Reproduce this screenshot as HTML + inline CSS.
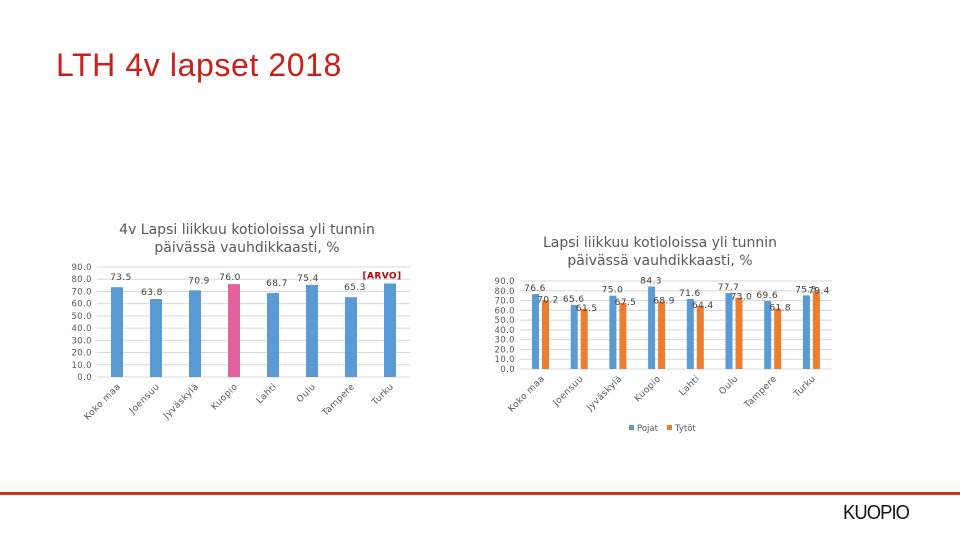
<!DOCTYPE html>
<html><head><meta charset="utf-8"><style>
body{margin:0;width:960px;height:540px;background:#fff;overflow:hidden;position:relative;font-family:"DejaVu Sans","Liberation Sans",sans-serif}
.t{position:absolute;white-space:nowrap}
</style></head><body>
<div class="t" style="left:56px;top:47px;font-size:32px;color:#c8201a;font-family:'Liberation Sans',sans-serif;letter-spacing:0.6px">LTH 4v lapset 2018</div>
<div class="t" style="left:97px;top:221px;width:300px;text-align:center;font-size:14px;color:#595959;line-height:18px">4v Lapsi liikkuu kotioloissa yli tunnin<br>päivässä vauhdikkaasti, %</div>
<div class="t" style="left:510px;top:234px;width:300px;text-align:center;font-size:14px;color:#595959;line-height:18px">Lapsi liikkuu kotioloissa yli tunnin<br>päivässä vauhdikkaasti, %</div>
<svg id="c" width="960" height="540" style="position:absolute;left:0;top:0"></svg>
<div style="position:absolute;left:0;top:492px;width:960px;height:3px;background:#d0321e"></div>
<div class="t" style="left:843px;top:502px;font-size:20px;color:#111;font-family:'Liberation Sans',sans-serif;letter-spacing:-1px;transform:scaleX(0.92);transform-origin:left">KUOPIO</div>
<script>
const cats=["Koko maa","Joensuu","Jyväskylä","Kuopio","Lahti","Oulu","Tampere","Turku"];
const vals1=[73.5,63.8,70.9,76.0,68.7,75.4,65.3,76.5];
const labels1=["73.5","63.8","70.9","76.0","68.7","75.4","65.3","[ARVO]"];
const pojat=[76.6,65.6,75.0,84.3,71.6,77.7,69.6,75.3];
const tytot=[70.2,61.5,67.5,68.9,64.4,73.0,61.8,79.4];
const ticks=[0,10,20,30,40,50,60,70,80,90];
const svg=document.getElementById('c');const NS='http://www.w3.org/2000/svg';
function mk(t,a,txt){const e=document.createElementNS(NS,t);for(const k in a)e.setAttribute(k,a[k]);if(txt!=null)e.textContent=txt;svg.appendChild(e);return e;}
function axis(x0,x1,yTop,yBot,lx,pfx){
 const y=v=>yBot-(v/90)*(yBot-yTop);
 ticks.forEach(v=>{const g=mk('line',{x1:x0,x2:x1,y1:y(v),y2:y(v),stroke:'#d9d9d9','stroke-width':1});
 
 const t=mk('text',{x:lx,y:y(v)+3,'font-size':8.5,fill:'#595959','text-anchor':'end','letter-spacing':'0.4'},v.toFixed(1));
 });
 return y;}
function catLabels(cx,yBot,pfx){cats.forEach((c,i)=>{const t=mk('text',{x:cx(i)+4,y:yBot+10,'font-size':9,fill:'#595959','text-anchor':'end','letter-spacing':'0.4',transform:`rotate(-45 ${cx(i)+4} ${yBot+10})`},c);
 });}
// chart 1
const y1=axis(97,410,267,377,92,'chart1');
const cx1=i=>117+i*39;
vals1.forEach((v,i)=>{const b=mk('rect',{x:cx1(i)-6,y:y1(v),width:12,height:y1(0)-y1(v),fill:i==3?'#e4609f':'#5b9bd5'});
 
 const last=i==7;const t=mk('text',{x:last?cx1(i)-8:cx1(i)+(i%2?-4:4),y:y1(v)-(i%2?-7:-4)-11+(last?-1:0),'font-size':9,'font-weight':last?'bold':'normal',fill:last?'#c00000':'#404040','text-anchor':'middle','letter-spacing':'0.4'},labels1[i]);
 });
catLabels(cx1,377,'chart1');
// chart 2
const y2=axis(520,832,281,369,515,'chart2');
const cx2=i=>541+i*38.7;
pojat.forEach((v,i)=>{const b=mk('rect',{x:cx2(i)-9,y:y2(v),width:7,height:y2(0)-y2(v),fill:'#5b9bd5'});
 
 const t=mk('text',{x:cx2(i)-6,y:y2(v)-3,'font-size':9,fill:'#404040','text-anchor':'middle','letter-spacing':'0.4'},v.toFixed(1));
 });
tytot.forEach((v,i)=>{const b=mk('rect',{x:cx2(i)+1,y:y2(v),width:7,height:y2(0)-y2(v),fill:'#ed7d31'});
 
 const t=mk('text',{x:cx2(i)+7,y:y2(v)+2,'font-size':9,fill:'#404040','text-anchor':'middle','letter-spacing':'0.4'},v.toFixed(1));
 });
catLabels(cx2,369,'chart2');
let e=mk('rect',{x:629,y:425,width:5,height:5,fill:'#5b9bd5'});
e=mk('text',{x:637,y:431,'font-size':8.5,fill:'#595959'},'Pojat');
e=mk('rect',{x:667,y:425,width:5,height:5,fill:'#ed7d31'});
e=mk('text',{x:675,y:431,'font-size':8.5,fill:'#595959'},'Tytöt');
</script>
</body></html>
